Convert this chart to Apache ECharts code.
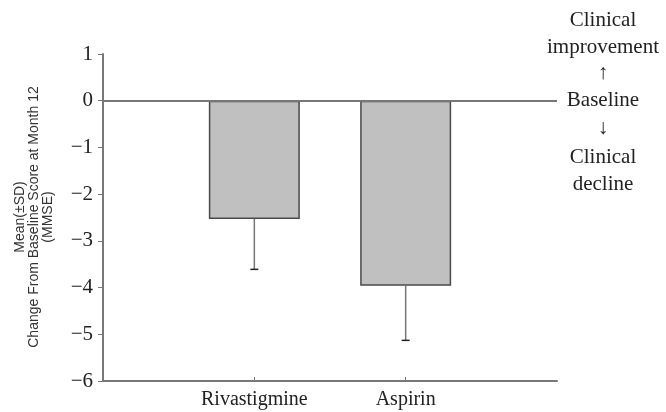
<!DOCTYPE html>
<html>
<head>
<meta charset="utf-8">
<script src="https://cdn.jsdelivr.net/npm/echarts@6/dist/echarts.min.js"></script>
<style>
  html, body { margin: 0; padding: 0; background: #fff; }
  #chart { width: 666px; height: 412px; }
</style>
</head>
<body>
<div id="chart"></div>
<script>
  // categories padded with empty slots so the groups sit where the original put them
  const categories = ['', 'Rivastigmine', 'Aspirin', ''];
  const means = [null, -2.53, -3.96, null];
  const sds = [null, 1.08, 1.17, null];
  const sideNotes = ['Clinical', 'improvement', '\u2191', 'Baseline', '\u2193', 'Clinical', 'decline'];
  const noteYs = [20, 47, 73, 100, 128, 157, 184];
  const yTitle = 'Mean(\u00b1SD)\nChange From Baseline Score at Month 12\n(MMSE)';

  const serif = '"Liberation Serif", "DejaVu Serif", serif';

  const errData = [];
  means.forEach((m, i) => {
    if (m == null) return;
    errData.push([i, m, m - sds[i]]);
  });

  const chart = echarts.init(document.getElementById('chart'));

  const notes = sideNotes.map((t, i) => ({
    type: 'text',
    x: 603,
    y: noteYs[i],
    style: {
      text: t,
      font: '21px ' + serif,
      fill: '#222',
      align: 'center',
      verticalAlign: 'middle'
    }
  }));

  // rotated y title, drawn as graphic so every line stays centred
  notes.push({
    type: 'text',
    x: 34,
    y: 217,
    rotation: Math.PI / 2,
    style: {
      text: yTitle,
      font: '14px "Liberation Sans", Arial, sans-serif',
      lineHeight: 14,
      fill: '#333',
      align: 'center',
      verticalAlign: 'middle'
    }
  });

  chart.setOption({
    animation: false,
    grid: { left: 103, right: 109, top: 54, bottom: 31, outerBoundsMode: 'none' },
    xAxis: {
      type: 'category',
      data: categories,
      boundaryGap: false,
      axisLine: { onZero: false, lineStyle: { color: '#777', width: 2 } },
      axisTick: {
        inside: true,
        length: 4,
        interval: (idx, v) => v !== '',
        lineStyle: { color: '#777' }
      },
      axisLabel: {
        interval: 0,
        color: '#222',
        fontFamily: serif,
        fontSize: 20,
        margin: 9
      },
      splitLine: { show: false }
    },
    yAxis: {
      type: 'value',
      min: -6,
      max: 1,
      interval: 1,
      axisLine: { show: true, lineStyle: { color: '#777', width: 2 } },
      axisTick: { show: true, length: 5, lineStyle: { color: '#777' } },
      axisLabel: {
        color: '#222',
        fontFamily: serif,
        fontSize: 21,
        margin: 10,
        formatter: v => String(v).replace('-', '\u2212')
      },
      splitLine: { show: false }
    },
    series: [
      {
        type: 'bar',
        data: means,
        barWidth: 91,
        itemStyle: { color: '#c0c0c0', borderColor: '#4a4a4a', borderWidth: 1.5 },
        markLine: {
          silent: true,
          symbol: 'none',
          label: { show: false },
          lineStyle: { color: '#777', width: 2, type: 'solid' },
          data: [{ yAxis: 0 }]
        }
      },
      {
        type: 'custom',
        data: errData,
        z: 1,
        renderItem: (params, api) => {
          const top = api.coord([api.value(0), api.value(1)]);
          const bot = api.coord([api.value(0), api.value(2)]);
          const cap = 4;
          return {
            type: 'group',
            children: [
              { type: 'line', shape: { x1: top[0], y1: top[1], x2: bot[0], y2: bot[1] },
                style: { stroke: '#777', lineWidth: 1.5 } },
              { type: 'line', shape: { x1: bot[0] - cap, y1: bot[1], x2: bot[0] + cap, y2: bot[1] },
                style: { stroke: '#222', lineWidth: 1.5 } }
            ]
          };
        }
      }
    ],
    graphic: notes
  });
</script>
</body>
</html>
